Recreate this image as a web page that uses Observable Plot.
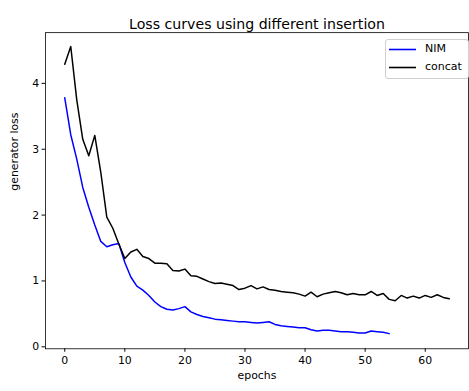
<!DOCTYPE html>
<html>
<head>
<meta charset="utf-8">
<script src="https://cdn.jsdelivr.net/npm/d3@7"></script>
<script src="https://cdn.jsdelivr.net/npm/@observablehq/plot@0.6"></script>
<style>
  html, body { margin: 0; padding: 0; background: #fff; overflow: hidden; }
  #wrap { position: relative; width: 469px; height: 391px; overflow: hidden; font-family: "DejaVu Sans", sans-serif; }
  #legend { position: absolute; left: 385px; top: 39px; width: 82px; height: 38px; border: 1px solid #d0d0d0; border-radius: 3px; background: rgba(255,255,255,0.8); font-size: 11px; color: #000; }
  .row { position: absolute; left: 3px; height: 13px; }
  .row svg { position: absolute; left: 0; top: 0; }
  .row .lb { position: absolute; left: 36px; top: -1px; white-space: nowrap; }
</style>
</head>
<body>
<div id="wrap">
  <div id="chart"></div>
  <div id="legend">
    <div class="row" style="top:3px"><svg width="28" height="13"><line x1="0" x2="27" y1="6.5" y2="6.5" stroke="#0000ff" stroke-width="1.6"/></svg><div class="lb">NIM</div></div>
    <div class="row" style="top:21px"><svg width="28" height="13"><line x1="0" x2="27" y1="6.5" y2="6.5" stroke="#000000" stroke-width="1.6"/></svg><div class="lb">concat</div></div>
  </div>
</div>
<script>
const title = "Loss curves using different insertion";
const xLabel = "epochs";
const yLabel = "generator loss";
const xTicks = [0, 10, 20, 30, 40, 50, 60];
const yTicks = [0, 1, 2, 3, 4];

const nimLoss = [3.78, 3.22, 2.85, 2.42, 2.12, 1.85, 1.60, 1.52, 1.55, 1.57,
  1.28, 1.06, 0.92, 0.86, 0.78, 0.68, 0.61, 0.57, 0.56, 0.58,
  0.61, 0.53, 0.49, 0.46, 0.44, 0.42, 0.41, 0.40, 0.39, 0.38,
  0.38, 0.37, 0.36, 0.37, 0.38, 0.34, 0.32, 0.31, 0.30, 0.29,
  0.29, 0.26, 0.24, 0.25, 0.25, 0.24, 0.23, 0.23, 0.22, 0.21,
  0.21, 0.24, 0.23, 0.22, 0.20];

const concatLoss = [4.29, 4.56, 3.75, 3.15, 2.90, 3.21, 2.65, 1.97, 1.80, 1.56,
  1.34, 1.44, 1.48, 1.37, 1.34, 1.27, 1.27, 1.26, 1.16, 1.15,
  1.18, 1.08, 1.07, 1.03, 0.99, 0.96, 0.97, 0.95, 0.93, 0.87,
  0.89, 0.93, 0.88, 0.91, 0.87, 0.86, 0.84, 0.83, 0.82, 0.80,
  0.77, 0.83, 0.76, 0.80, 0.82, 0.84, 0.82, 0.79, 0.81, 0.79,
  0.79, 0.84, 0.78, 0.81, 0.72, 0.70, 0.78, 0.74, 0.77, 0.74,
  0.78, 0.75, 0.79, 0.75, 0.73];

const nimData = nimLoss.map((v, i) => ({epoch: i, loss: v}));
const concatData = concatLoss.map((v, i) => ({epoch: i, loss: v}));

const chart = Plot.plot({
  width: 474,
  height: 391,
  marginLeft: 45.5,
  marginRight: 1,
  marginTop: 32.5,
  marginBottom: 39,
  style: {fontFamily: "DejaVu Sans", fontSize: "11px", color: "#000", background: "#fff"},
  x: {domain: [-3.2, 67.2]},
  y: {domain: [-0.03, 4.77]},
  marks: [
    Plot.axisX({ticks: xTicks, tickFormat: d3.format("d"), tickSize: 3.5, tickPadding: 4.5, label: null, fontSize: 11}),
    Plot.axisY({ticks: yTicks, tickFormat: d3.format("d"), tickSize: 3.5, tickPadding: 3, label: null, fontSize: 11}),
    Plot.line(nimData, {x: "epoch", y: "loss", stroke: "#0000ff", strokeWidth: 1.5}),
    Plot.line(concatData, {x: "epoch", y: "loss", stroke: "#000000", strokeWidth: 1.5}),
    Plot.frame({stroke: "#000", strokeWidth: 0.8}),
    Plot.text([title], {frameAnchor: "top", dy: -13.5, fontSize: 14.3, text: d => d, fill: "#000"}),
    Plot.text([xLabel], {frameAnchor: "bottom", dy: 31, fontSize: 11, text: d => d, fill: "#000"}),
    Plot.text([yLabel], {frameAnchor: "left", dx: -31, rotate: -90, fontSize: 11, text: d => d, fill: "#000"})
  ]
});
document.getElementById("chart").appendChild(chart);
</script>
</body>
</html>
